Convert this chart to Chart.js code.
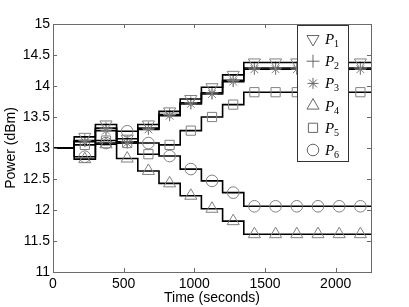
<!DOCTYPE html>
<html>
<head>
<meta charset="utf-8">
<script src="https://cdn.jsdelivr.net/npm/chart.js@4"></script>
<style>
  body { margin: 0; background: #fff; }
  #wrap { position: relative; width: 409px; height: 307px; }
</style>
</head>
<body>
<div id="wrap"><canvas id="powerchart" width="409" height="307"></canvas></div>
<script>
// Update instants (seconds); every value holds until the next instant
const stepTimes = [0, 150, 300, 450, 600, 750, 900, 1050, 1200, 1350, 1500, 1650, 1800, 1950, 2100];
const endTime = 2250;

// Power per interval (dBm), one entry per step
const p1 = [13, 13.18, 13.38, 13.15, 13.38, 13.59, 13.79, 13.98, 14.18, 14.38, 14.38, 14.38, 14.38, 14.38, 14.38];
const p2 = [13, 13.12, 13.32, 13.10, 13.32, 13.54, 13.73, 13.89, 14.09, 14.29, 14.29, 14.29, 14.29, 14.29, 14.29];
const p3 = [13, 13.10, 13.28, 13.08, 13.30, 13.52, 13.71, 13.87, 14.07, 14.27, 14.27, 14.27, 14.27, 14.27, 14.27];
const p4 = [13, 12.82, 13.06, 12.83, 12.63, 12.43, 12.23, 12.02, 11.82, 11.61, 11.61, 11.61, 11.61, 11.61, 11.61];
const p5 = [13, 13.05, 13.12, 13.08, 12.90, 13.05, 13.28, 13.50, 13.70, 13.90, 13.90, 13.90, 13.90, 13.90, 13.90];
const p6 = [13, 12.86, 13.08, 13.27, 13.08, 12.87, 12.66, 12.47, 12.28, 12.06, 12.06, 12.06, 12.06, 12.06, 12.06];

const seriesNames = ["1", "2", "3", "4", "5", "6"];
const xTicks = [0, 500, 1000, 1500, 2000];
const yTicks = [11, 11.5, 12, 12.5, 13, 13.5, 14, 14.5, 15];

// marker look per series (MATLAB-ish symbols)
const markers = [
  { pointStyle: "triangle", rotation: 180, radius: 7 },
  { pointStyle: "cross", rotation: 0, radius: 6.5 },
  { pointStyle: "star", rotation: 0, radius: 5.5 },
  { pointStyle: "triangle", rotation: 0, radius: 7 },
  { pointStyle: "rect", rotation: 0, radius: 6.5 },
  { pointStyle: "circle", rotation: 0, radius: 5.8 },
];
const markerColor = "#808080";

// step corners plus one marker in the middle of each interval (not the first)
function buildPoints(values) {
  const pts = [];
  stepTimes.forEach((t, i) => {
    const next = i + 1 < stepTimes.length ? stepTimes[i + 1] : endTime;
    pts.push({ x: t, y: values[i], marker: false });
    if (i > 0) pts.push({ x: (t + next) / 2, y: values[i], marker: true });
  });
  pts.push({ x: endTime, y: values[values.length - 1], marker: false });
  return pts;
}

const allSeries = [p1, p2, p3, p4, p5, p6];

const datasets = allSeries.map((vals, i) => ({
  label: "P" + seriesNames[i],
  data: buildPoints(vals),
  stepped: true,
  borderColor: "#000",
  borderWidth: 1.6,
  fill: false,
  pointStyle: markers[i].pointStyle,
  rotation: markers[i].rotation,
  pointRadius: (ctx) => (ctx.raw && ctx.raw.marker ? markers[i].radius : 0),
  pointBorderColor: markerColor,
  pointBackgroundColor: "rgba(0,0,0,0)",
  pointBorderWidth: 1,
}));

// box around the plot with inward ticks on all four sides
const framePlugin = {
  id: "frame",
  afterDatasetsDraw(chart) {
    const { ctx, chartArea: a, scales } = chart;
    const len = 4;
    ctx.save();
    ctx.strokeStyle = "#6a6a6a";
    ctx.lineWidth = 1;
    ctx.strokeRect(a.left + 0.5, a.top + 0.5, a.right - a.left, a.bottom - a.top);
    ctx.beginPath();
    scales.x.ticks.forEach((t) => {
      const px = Math.round(scales.x.getPixelForValue(t.value)) + 0.5;
      ctx.moveTo(px, a.bottom);
      ctx.lineTo(px, a.bottom - len);
      ctx.moveTo(px, a.top);
      ctx.lineTo(px, a.top + len);
    });
    scales.y.ticks.forEach((t) => {
      const py = Math.round(scales.y.getPixelForValue(t.value)) + 0.5;
      ctx.moveTo(a.left, py);
      ctx.lineTo(a.left + len, py);
      ctx.moveTo(a.right, py);
      ctx.lineTo(a.right - len, py);
    });
    ctx.stroke();
    ctx.restore();
  },
};

// legend box inside the plot, top right
const legendPlugin = {
  id: "innerLegend",
  afterDraw(chart) {
    const ctx = chart.ctx;
    const box = { x: 297.5, y: 25.5, w: 51, h: 136 };
    ctx.save();
    ctx.fillStyle = "#fff";
    ctx.fillRect(box.x, box.y, box.w, box.h);
    ctx.strokeStyle = "#333";
    ctx.lineWidth = 1;
    ctx.strokeRect(box.x, box.y, box.w, box.h);

    datasets.forEach((ds, i) => {
      const cy = 39 + i * 22.2;
      ctx.strokeStyle = "#666";
      ctx.fillStyle = "rgba(0,0,0,0)";
      Chart.helpers.drawPoint(ctx, {
        pointStyle: markers[i].pointStyle,
        rotation: markers[i].rotation,
        radius: markers[i].radius,
        borderWidth: 1,
      }, 313, cy);

      ctx.fillStyle = "#000";
      ctx.textBaseline = "alphabetic";
      ctx.textAlign = "left";
      ctx.font = "italic 15px 'Liberation Serif', 'DejaVu Serif', serif";
      ctx.fillText("P", 325, cy + 5);
      ctx.font = "10px 'Liberation Serif', 'DejaVu Serif', serif";
      ctx.fillText(seriesNames[i], 334, cy + 8);
    });
    ctx.restore();
  },
};

Chart.defaults.font.family = "'Liberation Sans', Arial, sans-serif";
Chart.defaults.font.size = 14;
Chart.defaults.color = "#000";

new Chart(document.getElementById("powerchart").getContext("2d"), {
  type: "line",
  data: { datasets: datasets },
  options: {
    responsive: false,
    animation: false,
    devicePixelRatio: 1,
    layout: { padding: { top: 24, right: 38, left: 0, bottom: 0 } },
    plugins: {
      legend: { display: false },
      tooltip: { enabled: false },
    },
    scales: {
      x: {
        type: "linear",
        min: 0,
        max: endTime,
        afterBuildTicks: (s) => { s.ticks = xTicks.map((v) => ({ value: v })); },
        afterFit: (s) => { s.height = 35; },
        grid: { display: false, drawTicks: false },
        border: { display: false },
        ticks: { padding: 4, maxRotation: 0, callback: (v) => String(v) },
        title: { display: true, text: "Time (seconds)", padding: { top: 0, bottom: 0 } },
      },
      y: {
        type: "linear",
        min: 11,
        max: 15,
        afterBuildTicks: (s) => { s.ticks = yTicks.map((v) => ({ value: v })); },
        afterFit: (s) => { s.width = 53; },
        grid: { display: false, drawTicks: false },
        border: { display: false },
        ticks: { padding: 3, callback: (v) => String(v) },
        title: { display: true, text: "Power (dBm)", padding: { top: 3, bottom: 0 } },
      },
    },
  },
  plugins: [framePlugin, legendPlugin],
});
</script>
</body>
</html>
